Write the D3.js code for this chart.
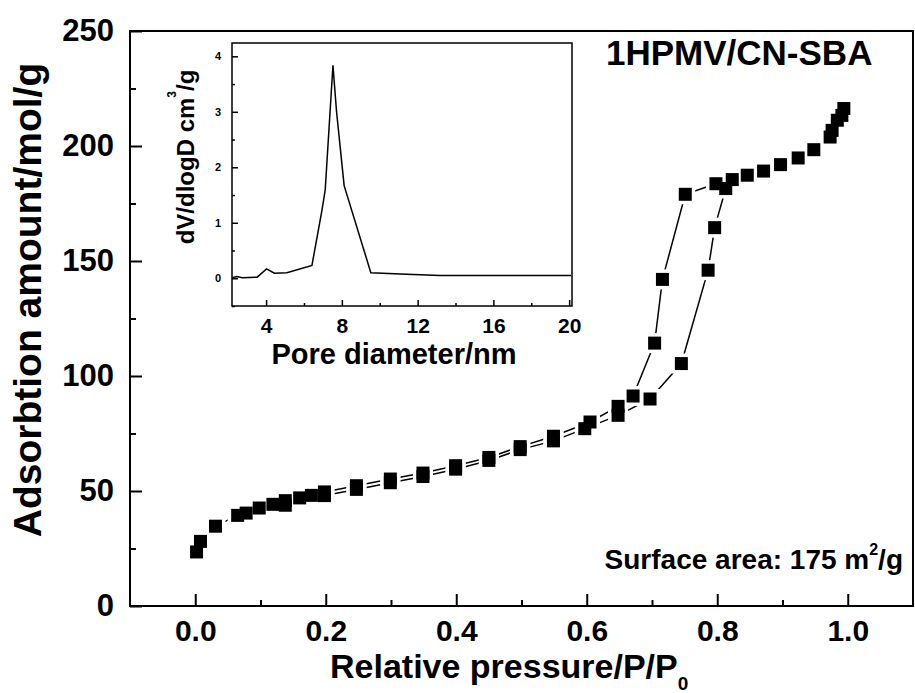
<!DOCTYPE html>
<html>
<head>
<meta charset="utf-8">
<script src="https://cdn.jsdelivr.net/npm/d3@7"></script>
<style>
  body { margin: 0; background: #fff; }
  text { font-family: "Liberation Sans", Arial, sans-serif; font-weight: bold; fill: #000; }
</style>
</head>
<body>
<svg width="915" height="693"></svg>
<script>
// isotherm, adsorption branch
const adsP = [0.002, 0.008, 0.031, 0.065, 0.078, 0.098, 0.119, 0.138, 0.160, 0.178, 0.198, 0.247, 0.299, 0.349, 0.399, 0.450, 0.498, 0.549, 0.597, 0.648, 0.697, 0.745, 0.786, 0.796, 0.813, 0.846, 0.897, 0.948, 0.976, 0.991];
const adsV = [23.5, 28.1, 34.7, 39.4, 40.4, 42.6, 44.2, 43.8, 47.0, 48.1, 48.0, 50.7, 53.6, 56.3, 59.5, 63.3, 68.0, 71.8, 77.1, 82.9, 90.0, 105.4, 146.0, 164.5, 181.5, 187.3, 191.9, 198.4, 206.8, 213.3];
// desorption branch
const desP = [0.994, 0.984, 0.973, 0.924, 0.871, 0.823, 0.798, 0.751, 0.716, 0.704, 0.671, 0.648, 0.605, 0.549, 0.498, 0.450, 0.399, 0.349, 0.299, 0.247, 0.198, 0.138];
const desV = [216.3, 211.2, 203.9, 194.8, 189.1, 185.4, 183.6, 179.0, 142.0, 114.3, 91.3, 86.8, 80.0, 73.8, 69.3, 64.6, 61.0, 57.8, 55.2, 52.3, 49.6, 45.8];
// inset: pore size distribution
const poreD = [2.21, 2.46, 2.74, 3.53, 4.02, 4.44, 5.1, 6.42, 6.95, 7.12, 7.53, 7.72, 8.12, 9.53, 11.42, 13.2, 20.1];
const poreDV = [0.01, 0.03, 0.01, 0.02, 0.17, 0.09, 0.10, 0.23, 1.23, 1.59, 3.84, 3.0, 1.67, 0.10, 0.07, 0.05, 0.05];

const xMajor = [0, 0.2, 0.4, 0.6, 0.8, 1.0];
const xMinor = [0.1, 0.3, 0.5, 0.7, 0.9];
const yMajor = [0, 50, 100, 150, 200, 250];
const yMinor = [25, 75, 125, 175, 225];
const ixMajor = [4, 8, 12, 16, 20];
const ixMinor = [6, 10, 14, 18];
const iyMajor = [0, 1, 2, 3, 4];
const iyMinor = [-0.5, 0.5, 1.5, 2.5, 3.5];

const svg = d3.select('svg');

const x = d3.scaleLinear().domain([-0.1, 1.1]).range([130, 913]);
const y = d3.scaleLinear().domain([0, 250]).range([606, 31]);

function styleAxis(g, size, width) {
  g.select('.domain').remove();
  g.attr('font-size', size).attr('font-family', null);
  g.selectAll('line').attr('stroke-width', width);
}

// main axes
svg.append('g').attr('transform', 'translate(0,606)')
  .call(d3.axisBottom(x).tickValues(xMajor).tickFormat(d3.format('.1f')).tickSize(-12).tickPadding(14))
  .call(g => styleAxis(g, 30, 2));
svg.append('g').attr('transform', 'translate(0,606)')
  .call(d3.axisBottom(x).tickValues(xMinor).tickFormat('').tickSize(-6))
  .call(g => styleAxis(g, 30, 2));
svg.append('g').attr('transform', 'translate(130,0)')
  .call(d3.axisLeft(y).tickValues(yMajor).tickFormat(d3.format('d')).tickSize(-12).tickPadding(16))
  .call(g => styleAxis(g, 31, 2));
svg.append('g').attr('transform', 'translate(130,0)')
  .call(d3.axisLeft(y).tickValues(yMinor).tickFormat('').tickSize(-6))
  .call(g => styleAxis(g, 31, 2));

svg.append('rect')
  .attr('x', x.range()[0]).attr('y', y.range()[1])
  .attr('width', x.range()[1] - x.range()[0]).attr('height', y.range()[0] - y.range()[1])
  .attr('fill', 'none').attr('stroke', '#000').attr('stroke-width', 2);

// isotherm lines and markers
const line = d3.line().x(d => x(d[0])).y(d => y(d[1]));
const ads = d3.zip(adsP, adsV);
const des = d3.zip(desP, desV);
[ads, des].forEach(s => {
  svg.append('path').datum(s).attr('d', line)
    .attr('fill', 'none').attr('stroke', '#000').attr('stroke-width', 1.5);
});
const pts = ads.concat(des);
svg.append('g').selectAll('rect').data(pts).join('rect')
  .attr('x', d => x(d[0]) - 10).attr('y', d => y(d[1]) - 10)
  .attr('width', 20).attr('height', 20).attr('fill', '#fff');
svg.append('g').selectAll('rect').data(pts).join('rect')
  .attr('x', d => x(d[0]) - 6.5).attr('y', d => y(d[1]) - 6.5)
  .attr('width', 13).attr('height', 13).attr('fill', '#000');

// main labels
svg.append('text')
  .attr('transform', 'translate(41,300) rotate(-90)')
  .attr('text-anchor', 'middle').attr('font-size', 39)
  .text('Adsorbtion amount/mol/g');

const xl = svg.append('text').attr('x', 330).attr('y', 678).attr('font-size', 34);
xl.append('tspan').text('Relative pressure/P/P');
xl.append('tspan').attr('font-size', 19).attr('dy', 12).text('0');

svg.append('text').attr('x', 606).attr('y', 65).attr('font-size', 35).text('1HPMV/CN-SBA');

const sa = svg.append('text').attr('x', 903).attr('y', 569).attr('font-size', 28).attr('text-anchor', 'end');
sa.append('tspan').text('Surface area: 175 m');
sa.append('tspan').attr('font-size', 16).attr('dy', -14).text('2');
sa.append('tspan').attr('dy', 14).text('/g');

// inset
const xi = d3.scaleLinear().domain([2.2, 20.15]).range([232, 572]);
const yi = d3.scaleLinear().domain([-0.5, 4.24]).range([306, 43]);

svg.append('g').attr('transform', 'translate(0,306)')
  .call(d3.axisBottom(xi).tickValues(ixMajor).tickFormat(d3.format('d')).tickSize(-6).tickPadding(12))
  .call(g => styleAxis(g, 21, 1.5));
svg.append('g').attr('transform', 'translate(0,306)')
  .call(d3.axisBottom(xi).tickValues(ixMinor).tickFormat('').tickSize(-3))
  .call(g => styleAxis(g, 21, 1.5));
svg.append('g').attr('transform', 'translate(232,0)')
  .call(d3.axisLeft(yi).tickValues(iyMajor).tickFormat(d3.format('d')).tickSize(-6).tickPadding(11))
  .call(g => styleAxis(g, 11, 1.5));
svg.append('g').attr('transform', 'translate(232,0)')
  .call(d3.axisLeft(yi).tickValues(iyMinor).tickFormat('').tickSize(-3))
  .call(g => styleAxis(g, 11, 1.5));

svg.append('rect')
  .attr('x', xi.range()[0]).attr('y', yi.range()[1])
  .attr('width', xi.range()[1] - xi.range()[0]).attr('height', yi.range()[0] - yi.range()[1])
  .attr('fill', 'none').attr('stroke', '#000').attr('stroke-width', 1.5);

svg.append('path').datum(d3.zip(poreD, poreDV))
  .attr('d', d3.line().x(d => xi(d[0])).y(d => yi(d[1])))
  .attr('fill', 'none').attr('stroke', '#000').attr('stroke-width', 1.5);

svg.append('text').attr('x', 394).attr('y', 364).attr('text-anchor', 'middle')
  .attr('font-size', 29).text('Pore diameter/nm');

const il = svg.append('text')
  .attr('transform', 'translate(194,157) rotate(-90)')
  .attr('text-anchor', 'middle').attr('font-size', 24);
il.append('tspan').text('dV/dlogD cm');
il.append('tspan').attr('font-size', 12).attr('dy', -18).text('3');
il.append('tspan').attr('dy', 18).text('/g');
</script>
</body>
</html>
